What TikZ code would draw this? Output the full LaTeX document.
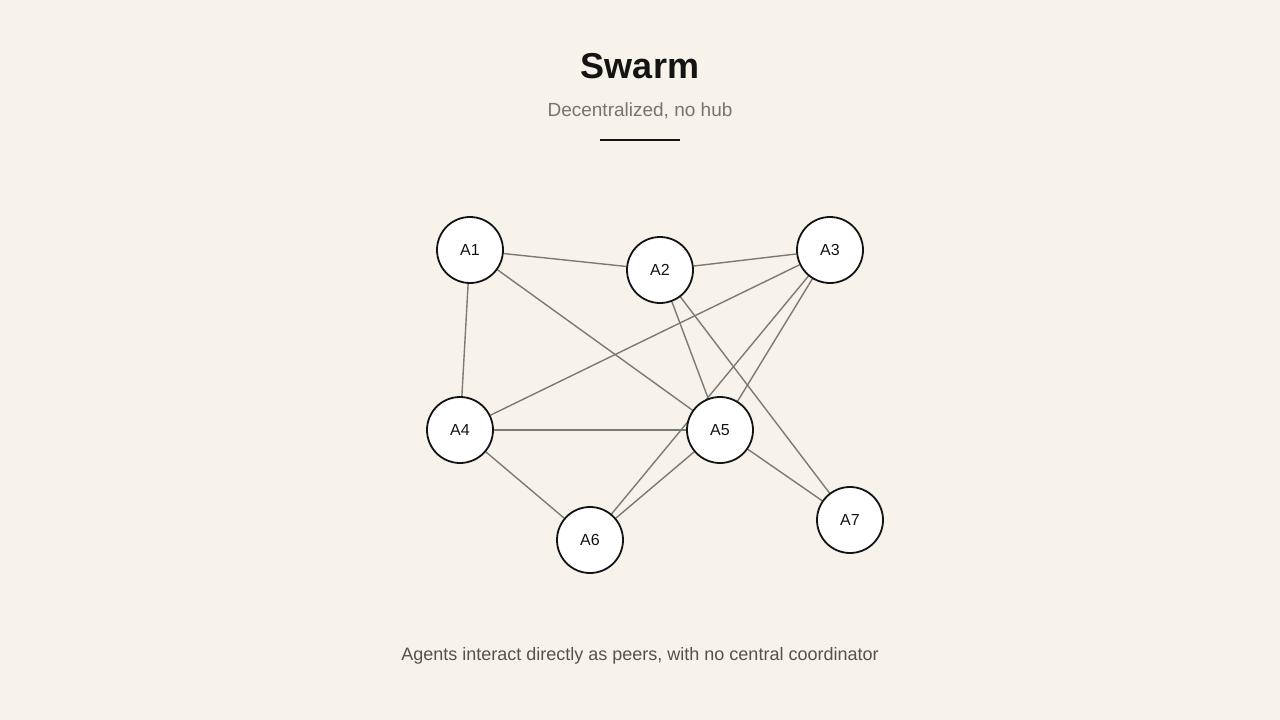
\documentclass[tikz,border=0pt]{standalone}
\usepackage{fontspec}
\setmainfont{Liberation Sans}
\usepackage[]{xcolor}
\usetikzlibrary{backgrounds}
\definecolor{paper}{HTML}{F7F3EA}
\definecolor{ink}{HTML}{141414}
\definecolor{edgegray}{HTML}{7A7A76}
\definecolor{subgray}{HTML}{77746F}
\definecolor{capgray}{HTML}{55524D}
\tikzset{agent/.style = {draw=ink, line width=1.8, fill=white, circle, minimum size=66, inner sep=0, font=\fontsize{16}{16}\selectfont, text=ink}}
\tikzset{link/.style = {draw=edgegray, line width=1.4}}

\begin{document}
\begin{tikzpicture}[x=1pt,y=-1pt]
        \useasboundingbox (0,0) rectangle (1280,720);
        \node (title) at (640,66) {\fontsize{36}{36}\selectfont\bfseries\color{ink}Swarm};
        \node (sub) at (640,111) {\fontsize{19}{19}\selectfont\color{subgray}Decentralized, no hub};
        \draw [ink, line width=2.8] (600,140) -- (680,140);
        % agents
        \node[agent] (a1) at (470,250) {A1};
        \node[agent] (a2) at (660,270) {A2};
        \node[agent] (a3) at (830,250) {A3};
        \node[agent] (a4) at (460,430) {A4};
        \node[agent] (a5) at (720,430) {A5};
        \node[agent] (a6) at (590,540) {A6};
        \node[agent] (a7) at (850,520) {A7};
        \node (cap) at (640,656) {\fontsize{18}{18}\selectfont\color{capgray}Agents interact directly as peers, with no central coordinator};
        % peer links, behind the agents
        \begin{scope}[on background layer]
            \fill [paper] (0,0) rectangle (1280,720);
            \foreach \u/\v in {a1/a2, a2/a3, a1/a4, a1/a5, a3/a4, a3/a5, a3/a6, a2/a5, a2/a7, a4/a5, a4/a6, a5/a6, a5/a7}
                \draw [link] (\u) -- (\v);
        \end{scope}
\end{tikzpicture}
\end{document}
